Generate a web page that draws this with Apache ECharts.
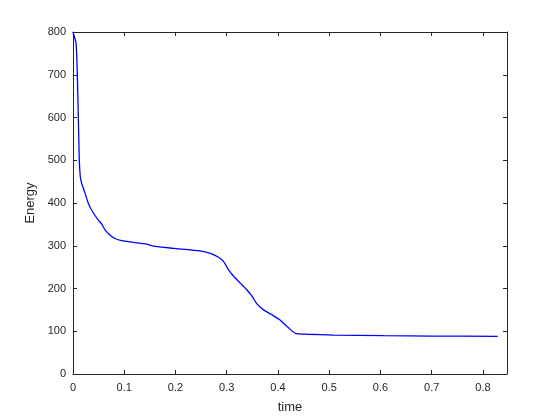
<!DOCTYPE html>
<html>
<head>
<meta charset="utf-8">
<script src="https://cdn.jsdelivr.net/npm/echarts@6/dist/echarts.min.js"></script>
<style>
  html, body { margin: 0; padding: 0; background: #fff; }
  #chart { width: 560px; height: 420px; }
</style>
</head>
<body>
<div id="chart"></div>
<script>
// time samples (s) and energy values
const timeData = [0, 0.006, 0.0084, 0.0104, 0.0123, 0.0143, 0.017, 0.0235, 0.030, 0.040,
  0.0495, 0.056, 0.0626, 0.072, 0.082, 0.095, 0.118, 0.144, 0.157, 0.196,
  0.248, 0.268, 0.284, 0.294, 0.304, 0.314, 0.327, 0.340, 0.350, 0.359,
  0.372, 0.389, 0.402, 0.418, 0.434, 0.457, 0.509, 0.607, 0.700, 0.829];
const energyData = [800, 773, 703, 602, 500, 461, 446, 423, 399, 376,
  360, 351, 337, 325, 317, 312, 308, 304, 299, 294,
  288, 282, 273, 263, 243, 228, 212, 196, 181, 164,
  150, 138, 128, 111, 95, 93, 91, 89.6, 88.8, 88];

const xTicks = [0, 0.1, 0.2, 0.3, 0.4, 0.5, 0.6, 0.7, 0.8];
const yTicks = [0, 100, 200, 300, 400, 500, 600, 700, 800];

const axisColor = '#262626';
const fontFamily = '"Liberation Sans", Arial, Helvetica, sans-serif';

const chart = echarts.init(document.getElementById('chart'));

// hide the extra label ECharts puts at a non-nice max
function tickLabel(list) {
  return (v) => (list.some((t) => Math.abs(t - v) < 1e-9) ? String(v) : '');
}

const baseX = {
  type: 'value',
  min: 0,
  max: 0.847,
  interval: 0.1,
  splitLine: { show: false },
  axisLine: { show: true, onZero: false, lineStyle: { color: axisColor, width: 1 } },
  axisTick: { show: true, inside: true, length: 4, lineStyle: { color: axisColor } }
};
const baseY = {
  type: 'value',
  min: 0,
  max: 800,
  interval: 100,
  splitLine: { show: false },
  axisLine: { show: true, onZero: false, lineStyle: { color: axisColor, width: 1 } },
  axisTick: { show: true, inside: true, length: 4, lineStyle: { color: axisColor } }
};

chart.setOption({
  animation: false,
  grid: { left: 73, right: 53, top: 32, bottom: 46, containLabel: false },
  xAxis: [
    Object.assign({}, baseX, {
      position: 'bottom',
      name: 'time',
      nameLocation: 'middle',
      nameGap: 27,
      nameTextStyle: { color: axisColor, fontSize: 13, fontFamily },
      axisLabel: { color: axisColor, fontSize: 11, fontFamily, margin: 8, formatter: tickLabel(xTicks) }
    }),
    Object.assign({}, baseX, { position: 'top', axisLabel: { show: false } })
  ],
  yAxis: [
    Object.assign({}, baseY, {
      position: 'left',
      name: 'Energy',
      nameLocation: 'middle',
      nameGap: 30,
      nameTextStyle: { color: axisColor, fontSize: 13, fontFamily },
      axisLabel: { color: axisColor, fontSize: 11, fontFamily, margin: 7, formatter: tickLabel(yTicks) }
    }),
    Object.assign({}, baseY, { position: 'right', axisLabel: { show: false } })
  ],
  series: [
    {
      type: 'line',
      data: timeData.map((t, i) => [t, energyData[i]]),
      showSymbol: false,
      smooth: 0.2,
      lineStyle: { color: '#0000ff', width: 1.3 },
      itemStyle: { color: '#0000ff' }
    }
  ]
});
</script>
</body>
</html>
